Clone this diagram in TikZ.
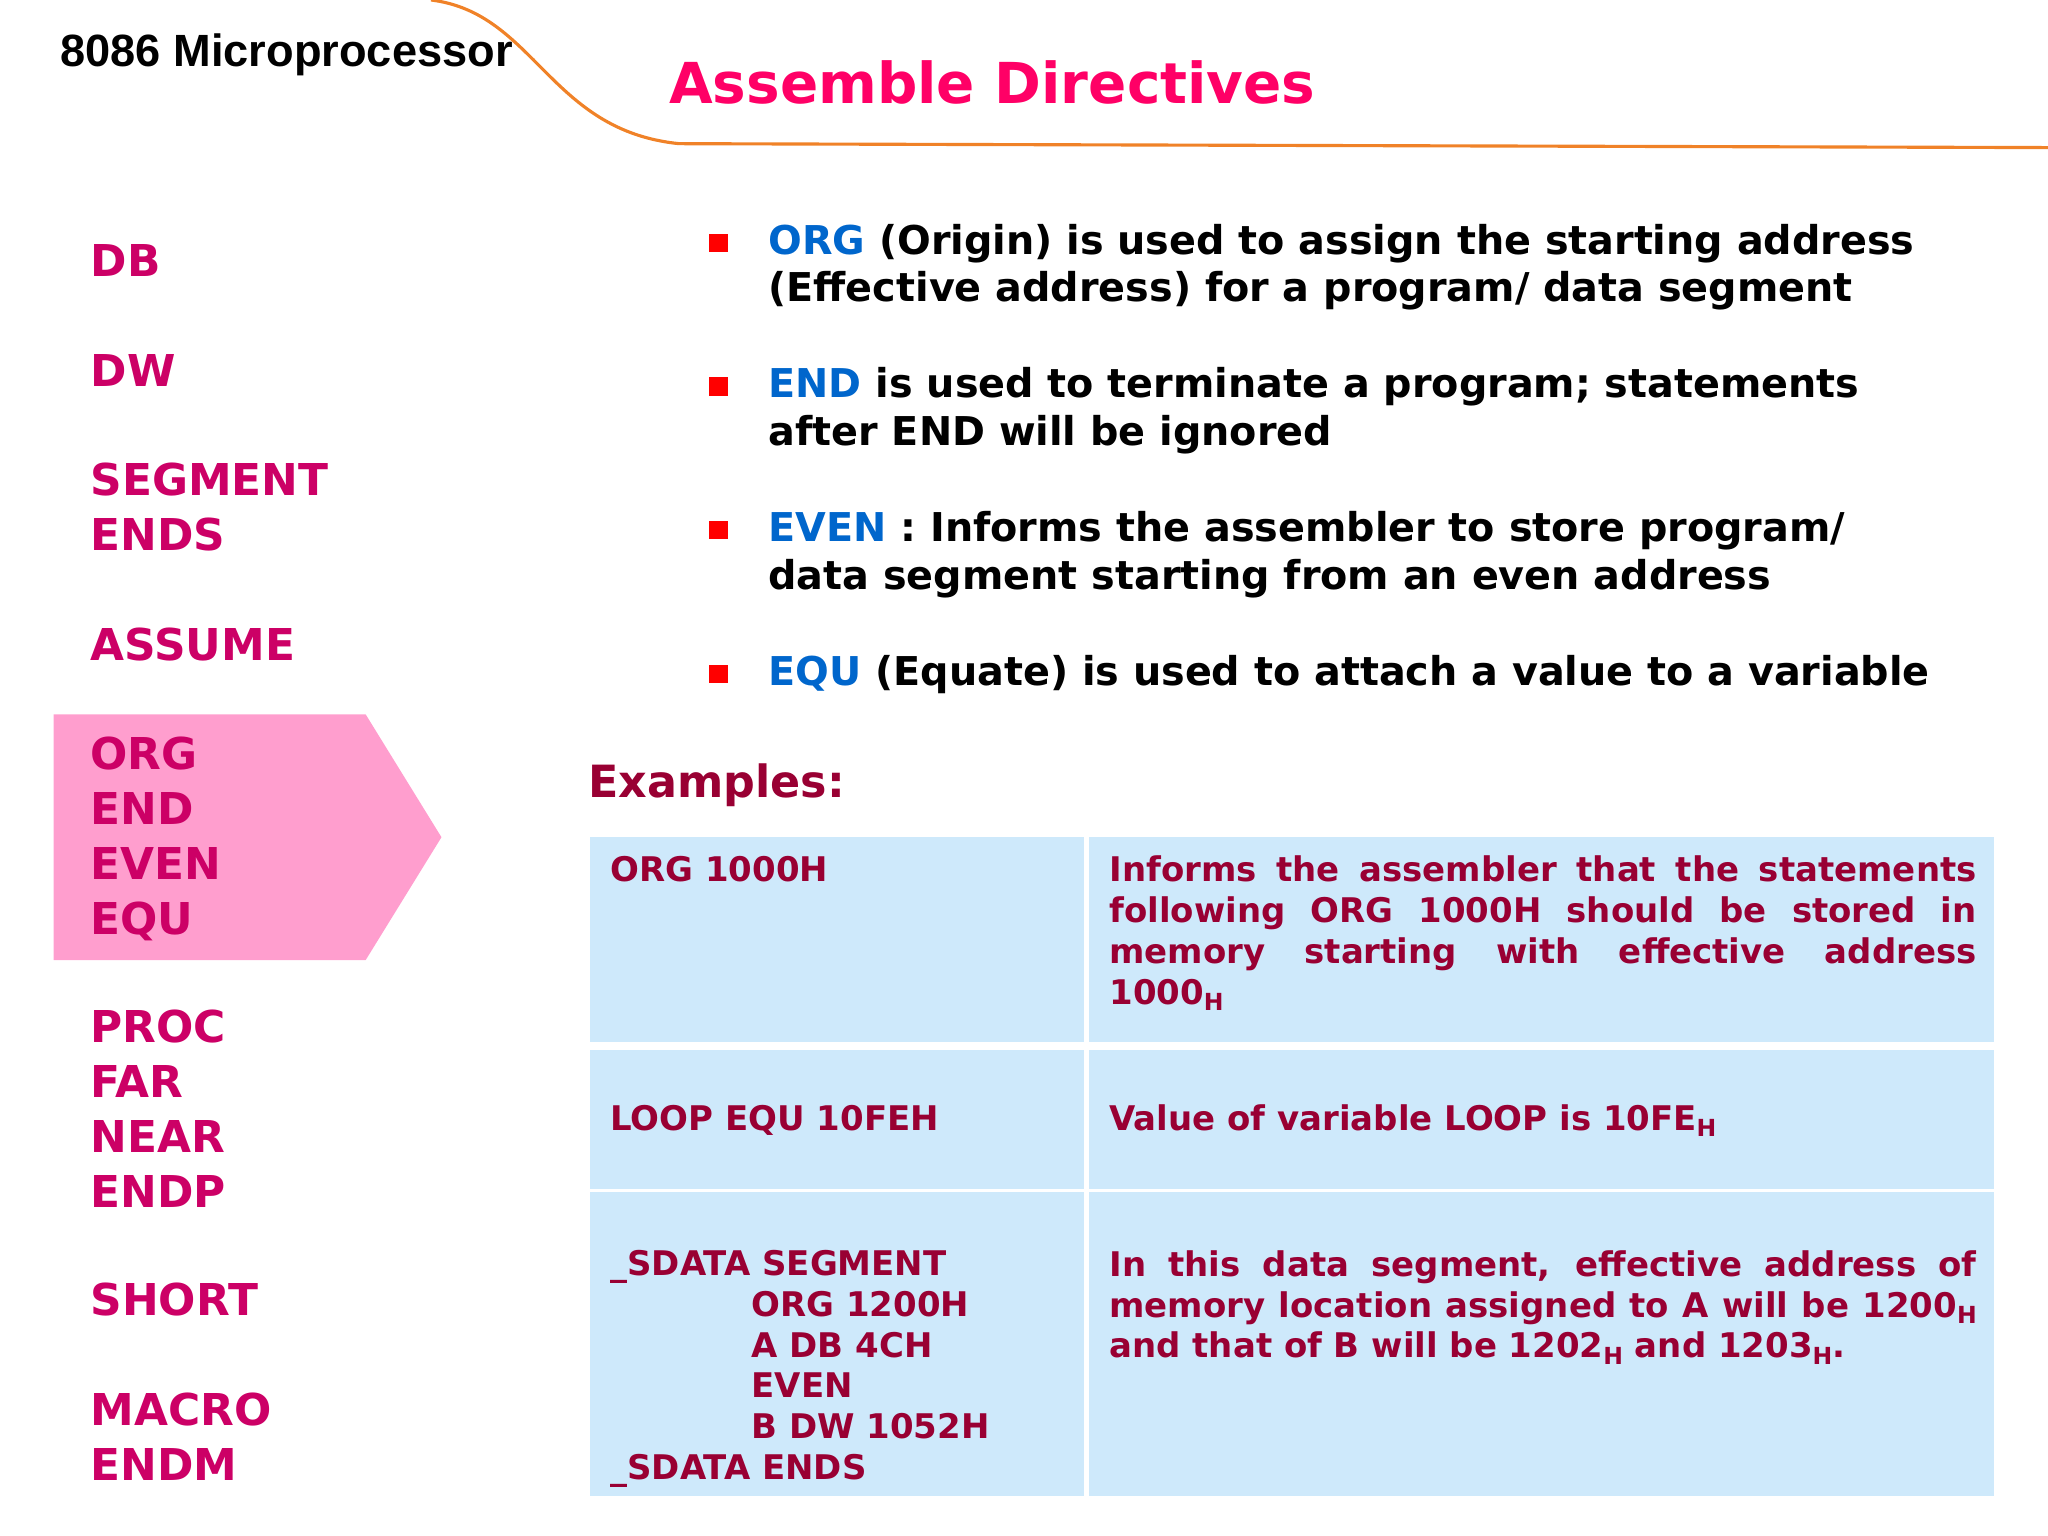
\documentclass[tikz,border=0pt]{standalone}
\usepackage{fontspec}
\setmainfont{DejaVu Sans}
\newfontfamily\arialb{Liberation Sans}
\definecolor{lst}{RGB}{204,0,102}
\definecolor{ttl}{RGB}{255,0,102}
\definecolor{tbl}{RGB}{153,0,51}
\definecolor{kw}{RGB}{0,102,204}
\definecolor{cell}{RGB}{206,233,251}
\definecolor{pk}{RGB}{255,158,206}
\definecolor{orng}{RGB}{240,130,40}
\newcommand{\subH}{\raisebox{-0.35ex}{\fontsize{9}{9}\selectfont H}}
\tikzset{
 lst/.style={anchor=north west,inner sep=0pt,text=lst,font=\bfseries\fontsize{16.8}{21}\selectfont,align=left},
 bul/.style={anchor=north west,inner sep=0pt,font=\bfseries\fontsize{15.2}{18.3}\selectfont,align=left},
 sq/.style={fill=red,minimum size=7pt,inner sep=0pt},
 cellbox/.style={fill=cell,draw=none},
 tt/.style={anchor=north west,inner sep=0pt,text=tbl,font=\bfseries\fontsize{13}{15.6}\selectfont,align=left}
}
\begin{document}
\begin{tikzpicture}[x=0.5pt,y=-0.5pt]
\useasboundingbox (0,0) rectangle (1568,1176);
\draw[orng,line width=1.2pt] (330,0) .. controls (410,10) and (420,100) .. (520,110) -- (1568,113);
\node[anchor=west,inner sep=0pt,font=\arialb\bfseries\fontsize{17.3}{20}\selectfont] (t0) at (46,42) {8086 Microprocessor};
\node[anchor=west,inner sep=0pt,text=ttl,font=\bfseries\fontsize{21.6}{26}\selectfont] (t1) at (512,63) {Assemble Directives};
\fill[pk] (41,547) -- (280,547) -- (338,641) -- (280,735) -- (41,735) -- cycle;
\node[lst] (l1) at (69,187) {DB};
\node[lst] (l2) at (69,271) {DW};
\node[lst] (l3) at (69,354) {SEGMENT\\ENDS};
\node[lst] (l4) at (69,480) {ASSUME};
\node[lst] (l5) at (69,564) {ORG\\END\\EVEN\\EQU};
\node[lst] (l6) at (69,773) {PROC\\FAR\\NEAR\\ENDP};
\node[lst] (l7) at (69,982) {SHORT};
\node[lst] (l8) at (69,1066) {MACRO\\ENDM};
\node[sq] (s1) at (550,186) {}; \node[sq] (s2) at (550,296) {};
\node[sq] (s3) at (550,406) {}; \node[sq] (s4) at (550,516) {};
\node[bul] (b1) at (588,171) {\textcolor{kw}{ORG} (Origin) is used to assign the starting address\\(Effective address) for a program/ data segment};
\node[bul] (b2) at (588,281) {\textcolor{kw}{END} is used to terminate a program; statements\\after END will be ignored};
\node[bul] (b3) at (588,391) {\textcolor{kw}{EVEN} : Informs the assembler to store program/\\data segment starting from an even address};
\node[bul] (b4) at (588,501) {\textcolor{kw}{EQU} (Equate) is used to attach a value to a variable};
\node[anchor=west,inner sep=0pt,text=tbl,font=\bfseries\fontsize{17}{20}\selectfont] (ex) at (450,601) {Examples:};
\fill[cellbox] (452,641) rectangle (830,798);
\fill[cellbox] (834,641) rectangle (1527,798);
\fill[cellbox] (452,804) rectangle (830,910);
\fill[cellbox] (834,804) rectangle (1527,910);
\fill[cellbox] (452,913) rectangle (830,1145);
\fill[cellbox] (834,913) rectangle (1527,1145);
\node[tt] (c1) at (467,655) {ORG 1000H};
\node[tt] (c2) at (849,655) {\parbox[t]{332pt}{Informs the assembler that the statements following ORG 1000H should be stored in\linebreak memory starting with effective address\linebreak 1000\subH}};
\node[tt,anchor=west] (c3) at (467,858) {LOOP EQU 10FEH};
\node[tt,anchor=west] (c4) at (849,858) {Value of variable LOOP is 10FE\subH};
\node[tt] (c5) at (467,957) {\_SDATA SEGMENT\\\hspace*{54pt}ORG 1200H\\\hspace*{54pt}A DB 4CH\\\hspace*{54pt}EVEN\\\hspace*{54pt}B DW 1052H\\\_SDATA ENDS};
\node[tt] (c6) at (849,957) {\parbox[t]{332pt}{In this data segment, effective address of\linebreak memory location assigned to A will be 1200\subH\linebreak and that of B will be 1202\subH{} and 1203\subH.}};
\end{tikzpicture}
\end{document}
